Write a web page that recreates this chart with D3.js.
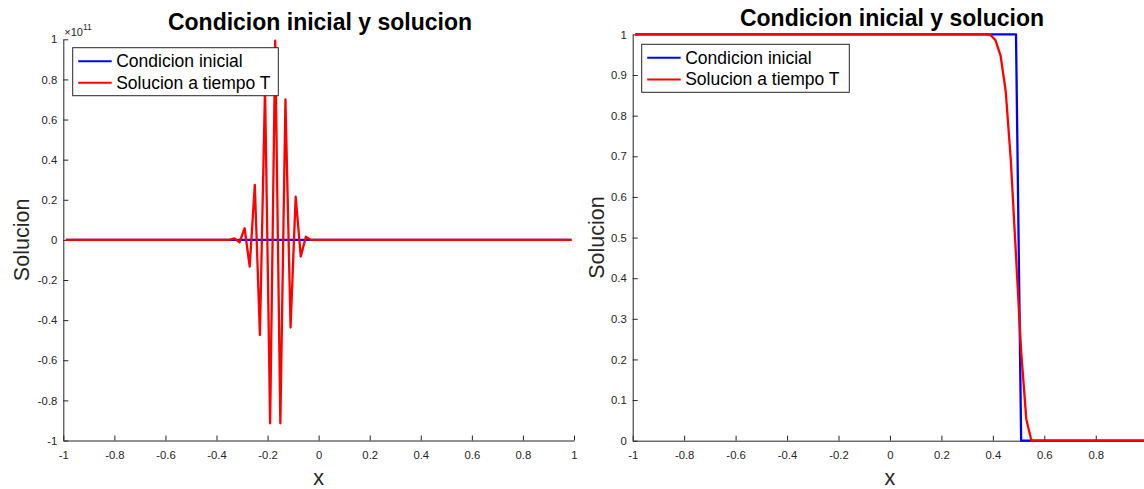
<!DOCTYPE html>
<html>
<head>
<meta charset="utf-8">
<script src="https://cdn.jsdelivr.net/npm/d3@7"></script>
<style>
    body { margin: 0; background: #fff; }
    text { font-family: "Liberation Sans", Arial, sans-serif; fill: #262626; }
</style>
</head>
<body>
<svg id="chart" width="1144" height="489"></svg>
<script>
var titleText = 'Condicion inicial y solucion';
var xLabelText = 'x';
var yLabelText = 'Solucion';
var legendLabels = ['Condicion inicial', 'Solucion a tiempo T'];
var seriesColors = ['#0000ff', '#ff0000'];

var leftXTicks = [-1, -0.8, -0.6, -0.4, -0.2, 0, 0.2, 0.4, 0.6, 0.8, 1];
var rightXTicks = [-1, -0.8, -0.6, -0.4, -0.2, 0, 0.2, 0.4, 0.6, 0.8];
var leftYTicks = [-1e11, -0.8e11, -0.6e11, -0.4e11, -0.2e11, 0, 0.2e11, 0.4e11, 0.6e11, 0.8e11, 1e11];
var rightYTicks = [0, 0.1, 0.2, 0.3, 0.4, 0.5, 0.6, 0.7, 0.8, 0.9, 1];

// condicion inicial (same in both panels)
var initX = [-0.99, 0.49, 0.51, 0.99];
var initU = [1, 1, 0, 0];

// solucion a tiempo T, left panel (unstable, ~1e11)
var leftSolX = [-0.99, -0.35, -0.33, -0.31, -0.29, -0.27, -0.25, -0.23, -0.21, -0.19,
    -0.17, -0.15, -0.13, -0.11, -0.09, -0.07, -0.05, -0.03, 0.99];
var leftSolU = [0, 0, 0.008e11, -0.012e11, 0.058e11, -0.133e11, 0.274e11, -0.474e11, 0.76e11, -0.914e11,
    0.993e11, -0.914e11, 0.70e11, -0.437e11, 0.215e11, -0.083e11, 0.016e11, 0, 0];

// solucion a tiempo T, right panel
var rightSolX = [-0.99, 0.37, 0.39, 0.41, 0.43, 0.45, 0.47, 0.49, 0.51, 0.53, 0.55, 0.99];
var rightSolU = [1, 1, 0.999, 0.986, 0.948, 0.86, 0.689, 0.455, 0.22, 0.053, 0, 0];

var svg = d3.select('#chart');

function fmt (v) {
    return String(Math.round(v * 10) / 10);
}

function drawPanel (p) {
    var x = d3.scaleLinear().domain([-1, 1]).range(p.xRange);
    var y = d3.scaleLinear().domain(p.yDomain).range(p.yRange);
    var g = svg.append('g');

    var xAxis = g.append('g')
        .attr('transform', 'translate(0,' + p.yRange[0] + ')')
        .call(d3.axisBottom(x).tickValues(p.xTicks).tickFormat(fmt)
            .tickSizeInner(-5).tickSizeOuter(0).tickPadding(10));

    var yAxis = g.append('g')
        .attr('transform', 'translate(' + p.xRange[0] + ',0)')
        .call(d3.axisLeft(y).tickValues(p.yTicks).tickFormat(function (d) { return fmt(d / p.yUnit); })
            .tickSizeInner(-5).tickSizeOuter(0).tickPadding(6));

    [xAxis, yAxis].forEach(function (a) {
        a.attr('font-family', null).attr('font-size', null);
        a.selectAll('path, line').attr('stroke', '#262626').attr('stroke-width', 1);
        a.selectAll('text').style('font-size', '11.3px').attr('fill', '#262626');
    });

    if (p.exponent) {
        var ex = g.append('text')
            .attr('x', p.xRange[0] + 1)
            .attr('y', 36)
            .style('font-size', '11px');
        ex.append('tspan').text('\u00d710');
        ex.append('tspan').attr('dy', -6).style('font-size', '8.5px').text(p.exponent);
    }

    var line = d3.line()
        .x(function (d) { return x(d[0]); })
        .y(function (d) { return y(d[1]); });

    var series = [d3.zip(initX, initU), d3.zip(p.solX, p.solU)];

    g.selectAll('path.serie').data(series).enter()
        .append('path')
        .attr('class', 'serie')
        .attr('d', line)
        .attr('fill', 'none')
        .attr('stroke', function (d, i) { return seriesColors[i]; })
        .attr('stroke-width', 2.3)
        .attr('stroke-linejoin', 'round');

    g.append('text')
        .attr('x', p.titleX)
        .attr('y', p.titleY)
        .attr('text-anchor', 'middle')
        .style('font-size', '23px')
        .style('font-weight', 'bold')
        .style('fill', '#000')
        .text(titleText);

    g.append('text')
        .attr('x', (p.xRange[0] + x(1)) / 2)
        .attr('y', 485)
        .attr('text-anchor', 'middle')
        .style('font-size', '21.5px')
        .text(xLabelText);

    g.append('text')
        .attr('transform', 'translate(' + p.yLabelX + ',' + y((p.yDomain[0] + p.yDomain[1]) / 2) + ') rotate(-90)')
        .attr('text-anchor', 'middle')
        .style('font-size', '21.5px')
        .text(yLabelText);

    // legend
    var lg = g.append('g').attr('transform', 'translate(' + p.legend[0] + ',' + p.legend[1] + ')');
    lg.append('rect')
        .attr('width', p.legend[2])
        .attr('height', 48)
        .attr('fill', '#fff')
        .attr('stroke', '#262626')
        .attr('stroke-width', 1);

    var items = lg.selectAll('g.item').data(legendLabels).enter()
        .append('g')
        .attr('class', 'item')
        .attr('transform', function (d, i) { return 'translate(0,' + (13.5 + i * 21.6) + ')'; });

    items.append('line')
        .attr('x1', 5.5).attr('x2', 39)
        .attr('stroke', function (d, i) { return seriesColors[i]; })
        .attr('stroke-width', 2);

    items.append('text')
        .attr('x', 43.5)
        .attr('y', 6)
        .style('font-size', '17.5px')
        .style('fill', '#000')
        .text(function (d) { return d; });
}

drawPanel({
    xRange: [63.3, 574],
    xTicks: leftXTicks,
    yDomain: [-1e11, 1e11],
    yRange: [440.5, 39.3],
    yTicks: leftYTicks,
    yUnit: 1e11,
    exponent: '11',
    solX: leftSolX,
    solU: leftSolU,
    titleX: 320,
    titleY: 29.5,
    yLabelX: 29,
    legend: [72.7, 47.7, 205.6]
});

drawPanel({
    xRange: [632.7, 1147.2],
    xTicks: rightXTicks,
    yDomain: [0, 1],
    yRange: [440.7, 34.4],
    yTicks: rightYTicks,
    yUnit: 1,
    exponent: null,
    solX: rightSolX,
    solU: rightSolU,
    titleX: 892,
    titleY: 26,
    yLabelX: 604,
    legend: [641.7, 44.3, 207.6]
});
</script>
</body>
</html>
